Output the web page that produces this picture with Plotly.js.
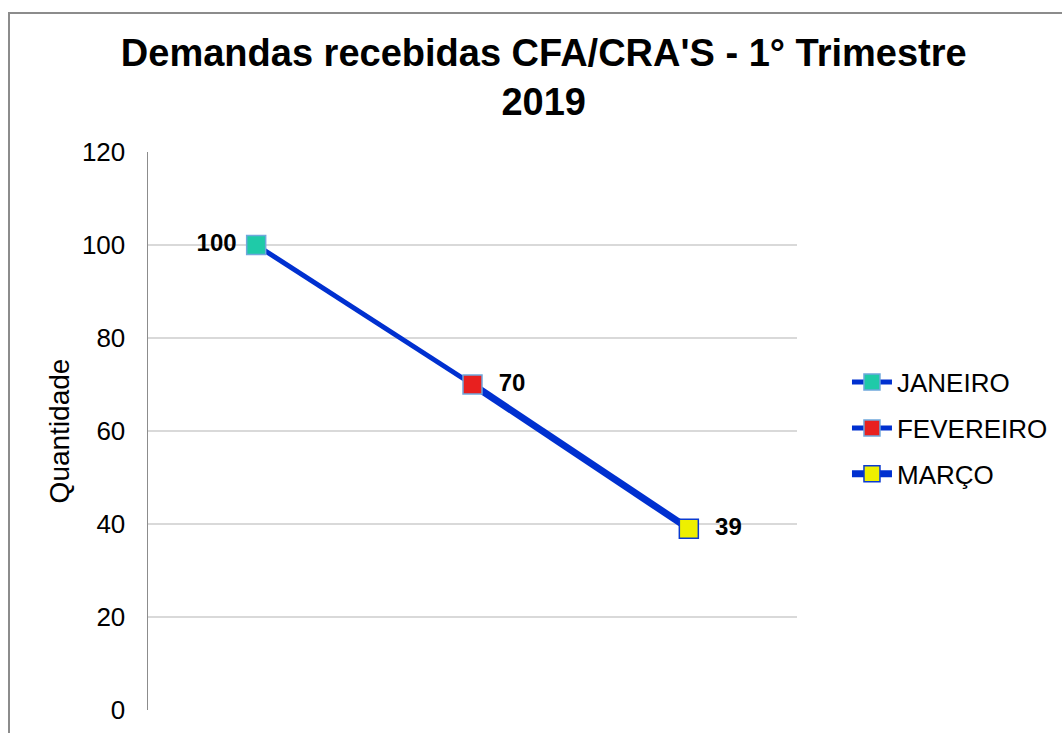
<!DOCTYPE html>
<html>
<head>
<meta charset="utf-8">
<script src="https://cdn.plot.ly/plotly-3.0.1.min.js"></script>
<style>
  body { margin: 0; background: #fff; }
  #chart { width: 1062px; height: 733px; }
  #frame { position: absolute; left: 8px; top: 12px; width: 1100px; height: 800px;
           border-left: 2px solid #8c8c8c; border-top: 2px solid #8c8c8c; pointer-events: none; }
</style>
</head>
<body>
<div id="chart"></div>
<div id="frame"></div>
<script>
const months = ['JANEIRO', 'FEVEREIRO', 'MARÇO'];
const values = [100, 70, 39];

// estilo de cada mês (marcador, borda, espessura da linha)
const markerColors = ['#1fcaa8', '#e8201f', '#eef000'];
const markerLines = ['#6fa8dc', '#6fa8dc', '#0a3ad0'];
const lineWidths = [5, 5, 7];
const labelPos = ['middle left', 'middle right', 'middle right'];

const lineColor = '#0030d0';
const traces = [];

// segmentos entre os meses
for (let i = 1; i < months.length; i++) {
    traces.push({
        x: [months[i - 1], months[i]],
        y: [values[i - 1], values[i]],
        type: 'scatter',
        mode: 'lines',
        line: { color: lineColor, width: lineWidths[i] },
        showlegend: false,
        hoverinfo: 'skip'
    });
}

// marcadores com rótulo
for (let i = 0; i < months.length; i++) {
    const label = labelPos[i] === 'middle left' ? values[i] + ' ' : '  ' + values[i];
    traces.push({
        x: [months[i]],
        y: [values[i]],
        type: 'scatter',
        mode: 'lines+markers+text',
        name: months[i],
        legendgroup: months[i],
        text: [label],
        textposition: labelPos[i],
        textfont: { family: 'Liberation Sans, Arial, sans-serif', size: 24, color: '#000', weight: 'bold' },
        line: { color: lineColor, width: lineWidths[i] },
        marker: { symbol: 'square', size: 19, color: markerColors[i],
                  line: { color: markerLines[i], width: 1.5 } }
    });
}

const layout = {
    width: 1062,
    height: 733,
    paper_bgcolor: '#fff',
    plot_bgcolor: '#fff',
    margin: { l: 148, r: 265, t: 152, b: 23, autoexpand: false },
    font: { family: 'Liberation Sans, Arial, sans-serif', color: '#000', size: 26 },
    title: {
        text: "Demandas recebidas CFA/CRA'S - 1° Trimestre<br>2019",
        font: { size: 38, weight: 'bold', color: '#000' },
        x: 0.512, xanchor: 'center',
        y: 0.91, yanchor: 'top'
    },
    xaxis: {
        type: 'category',
        categoryorder: 'array',
        categoryarray: months,
        range: [-0.5, 2.5],
        showticklabels: false,
        showgrid: false,
        zeroline: false,
        showline: false,
        ticks: ''
    },
    yaxis: {
        range: [0, 120],
        dtick: 20,
        showgrid: true,
        gridcolor: '#d9d9d9',
        gridwidth: 1.5,
        zeroline: false,
        showline: true,
        linecolor: '#8c8c8c',
        linewidth: 1.5,
        ticks: '',
        ticklabelstandoff: 16,
        tickfont: { size: 26 },
        title: { text: 'Quantidade', font: { size: 28 }, standoff: 4 }
    },
    legend: {
        x: 1.077, xanchor: 'left',
        y: 0.505, yanchor: 'middle',
        font: { size: 26 },
        tracegroupgap: 9,
        itemwidth: 40
    },
    showlegend: true
};

Plotly.newPlot('chart', traces, layout, { displayModeBar: false, staticPlot: true });
</script>
</body>
</html>
